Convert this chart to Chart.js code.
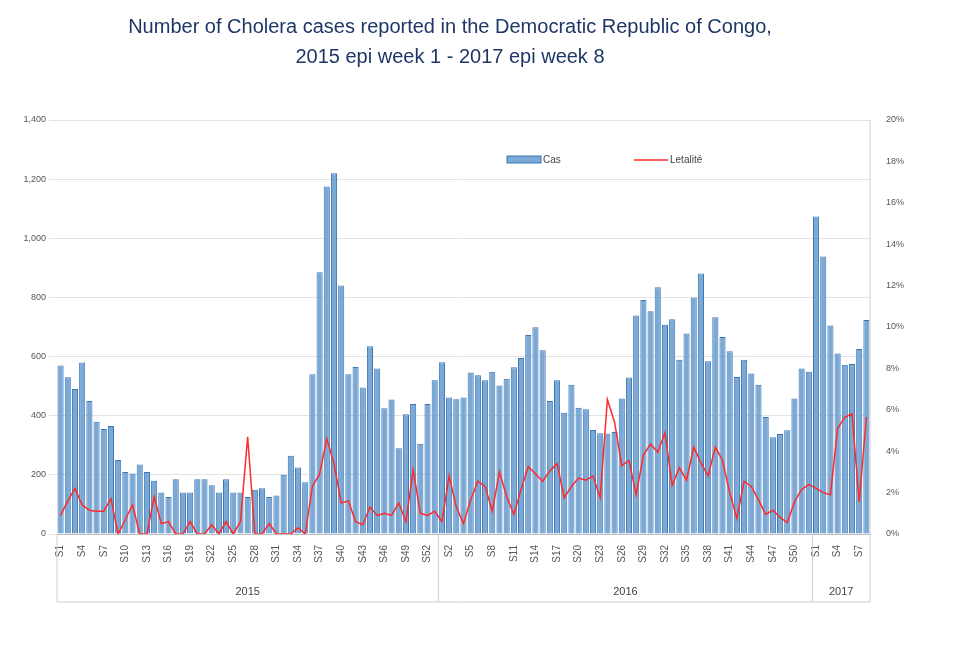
<!DOCTYPE html>
<html>
<head>
<meta charset="utf-8">
<script src="https://cdn.jsdelivr.net/npm/chart.js@4"></script>
<style>
  html, body { margin: 0; padding: 0; background: #fff; }
  #wrap { width: 953px; height: 648px; }
</style>
</head>
<body>
<div id="wrap"><canvas id="chart" width="953" height="648"></canvas></div>
<script>
// cases per epi week
const cases2015 = [570, 530, 490, 580, 450, 380, 355, 365, 250, 210, 205, 235, 210, 180, 140, 125, 185, 140, 140, 185,
    185, 165, 140, 185, 140, 140, 125, 150, 155, 125, 130, 200, 265, 225, 175, 540, 885, 1175, 1220, 840,
    540, 565, 495, 635, 560, 425, 455, 290, 405, 440, 305, 440, 520];
const cases2016 = [581, 462, 456, 462, 546, 537, 520, 549, 502, 525, 564, 595, 673, 699, 621, 450, 520, 410, 505, 427,
    422, 352, 341, 340, 345, 458, 529, 739, 791, 753, 834, 708, 726, 589, 678, 800, 881, 584, 733, 666,
    618, 531, 589, 543, 505, 396, 327, 338, 351, 458, 560, 549];
const cases2017 = [1074, 938, 705, 610, 572, 575, 626, 724];

// letalite (%)
const cfr2015 = [0.9, 1.6, 2.2, 1.4, 1.15, 1.1, 1.1, 1.7, 0, 0.7, 1.4, 0, 0, 1.8, 0.5, 0.6, 0, 0, 0.6, 0,
    0, 0.45, 0, 0.6, 0, 0.6, 4.7, 0, 0, 0.5, 0, 0, 0, 0.3, 0, 2.3, 2.9, 4.6, 3.4, 1.5,
    1.6, 0.6, 0.45, 1.3, 0.9, 1.0, 0.9, 1.5, 0.6, 3.1, 1.0, 0.9, 1.1];
const cfr2016 = [0.6, 2.8, 1.3, 0.5, 1.65, 2.55, 2.3, 1.1, 3.0, 1.8, 0.95, 2.15, 3.25, 2.9, 2.55, 3.05, 3.4, 1.75, 2.3, 2.7,
    2.6, 2.8, 1.75, 6.5, 5.4, 3.3, 3.55, 1.9, 3.8, 4.35, 3.95, 4.9, 2.35, 3.2, 2.6, 4.2, 3.45, 2.8, 4.2, 3.55,
    2.0, 0.75, 2.55, 2.3, 1.65, 0.95, 1.15, 0.8, 0.55, 1.55, 2.15, 2.4];
const cfr2017 = [2.2, 2.0, 1.9, 5.1, 5.65, 5.8, 1.55, 5.65];

const years = ['2015', '2016', '2017'];
const weeksPerYear = [cases2015.length, cases2016.length, cases2017.length];
const leftTicks = [0, 200, 400, 600, 800, 1000, 1200, 1400];
const rightTicks = [0, 2, 4, 6, 8, 10, 12, 14, 16, 18, 20];

const titleLines = ['Number of Cholera cases reported in the Democratic Republic of Congo,',
    '2015 epi week 1 - 2017 epi week 8'];

const labels = [];
weeksPerYear.forEach(n => { for (let w = 1; w <= n; w++) labels.push('S' + w); });
const cases = [...cases2015, ...cases2016, ...cases2017];
const cfr = [...cfr2015, ...cfr2016, ...cfr2017];

const gridColor = '#e3e3e3';
const textColor = '#555';

// title, legend and the year row under the x axis
const extras = {
    id: 'extras',
    afterDraw(chart) {
        const ctx = chart.ctx, x = chart.scales.x, area = chart.chartArea;
        ctx.save();
        ctx.fillStyle = '#1f3766';
        ctx.font = '20px "Liberation Sans", Arial, sans-serif';
        ctx.textAlign = 'center';
        ctx.textBaseline = 'middle';
        ctx.fillText(titleLines[0], 450, 27);
        ctx.fillText(titleLines[1], 450, 57);

        // legend
        ctx.font = '10px "Liberation Sans", Arial, sans-serif';
        ctx.textAlign = 'left';
        ctx.fillStyle = '#7aa9d6';
        ctx.strokeStyle = '#3e76b5';
        ctx.fillRect(507, 156, 34, 7);
        ctx.strokeRect(507, 156, 34, 7);
        ctx.fillStyle = '#444';
        ctx.fillText('Cas', 543, 160);
        ctx.strokeStyle = '#ff2a2a';
        ctx.lineWidth = 1.5;
        ctx.beginPath(); ctx.moveTo(634, 160); ctx.lineTo(668, 160); ctx.stroke();
        ctx.fillText('Letalité', 670, 160);

        // year row
        const bottom = area.bottom + 68;
        const half = (x.getPixelForValue(1) - x.getPixelForValue(0)) / 2;
        ctx.strokeStyle = '#cfcfcf';
        ctx.lineWidth = 1;
        ctx.beginPath();
        ctx.moveTo(area.left, bottom); ctx.lineTo(area.right, bottom);
        let start = 0;
        const edges = [area.left];
        weeksPerYear.forEach(n => { start += n; edges.push(start === cases.length ? area.right : x.getPixelForValue(start) - half); });
        edges.forEach(e => { ctx.moveTo(e, area.bottom); ctx.lineTo(e, bottom); });
        ctx.moveTo(area.right, area.top); ctx.lineTo(area.right, area.bottom);
        ctx.stroke();
        ctx.fillStyle = '#444';
        ctx.textAlign = 'center';
        ctx.font = '11px "Liberation Sans", Arial, sans-serif';
        years.forEach((y, i) => ctx.fillText(y, (edges[i] + edges[i + 1]) / 2, bottom - 10));
        ctx.restore();
    }
};

new Chart(document.getElementById('chart'), {
    data: {
        labels: labels,
        datasets: [{
            type: 'line',
            label: 'Letalité',
            data: cfr,
            yAxisID: 'y1',
            borderColor: '#ff2a2a',
            borderWidth: 1.5,
            pointRadius: 0,
            tension: 0
        }, {
            type: 'bar',
            label: 'Cas',
            data: cases,
            yAxisID: 'y',
            backgroundColor: '#7aa9d6',
            borderColor: '#3e76b5',
            borderWidth: 1,
            barPercentage: 0.85,
            categoryPercentage: 1
        }]
    },
    options: {
        responsive: false,
        animation: false,
        layout: { padding: { top: 120, left: 22, right: 38, bottom: 46 } },
        plugins: { legend: { display: false }, tooltip: { enabled: false } },
        scales: {
            x: {
                grid: { display: false },
                border: { color: '#bbb' },
                afterFit: s => { s.height = 68; },
                ticks: {
                    autoSkip: false,
                    maxRotation: 90,
                    minRotation: 90,
                    color: textColor,
                    font: { size: 10, family: '"Liberation Sans", Arial' },
                    callback: (v, i) => i % 3 === 0 ? labels[i] : ''
                }
            },
            y: {
                position: 'left',
                min: 0, max: 1400,
                afterFit: s => { s.width = 35; },
                afterBuildTicks: s => { s.ticks = leftTicks.map(v => ({ value: v })); },
                grid: { color: gridColor },
                border: { display: false },
                ticks: { color: textColor, font: { size: 9, family: '"Liberation Sans", Arial' } }
            },
            y1: {
                position: 'right',
                min: 0, max: 20,
                afterFit: s => { s.width = 45; },
                afterBuildTicks: s => { s.ticks = rightTicks.map(v => ({ value: v })); },
                grid: { display: false },
                border: { display: false },
                ticks: { color: textColor, padding: 8, font: { size: 9, family: '"Liberation Sans", Arial' }, callback: v => v + '%' }
            }
        }
    },
    plugins: [extras]
});
</script>
</body>
</html>
